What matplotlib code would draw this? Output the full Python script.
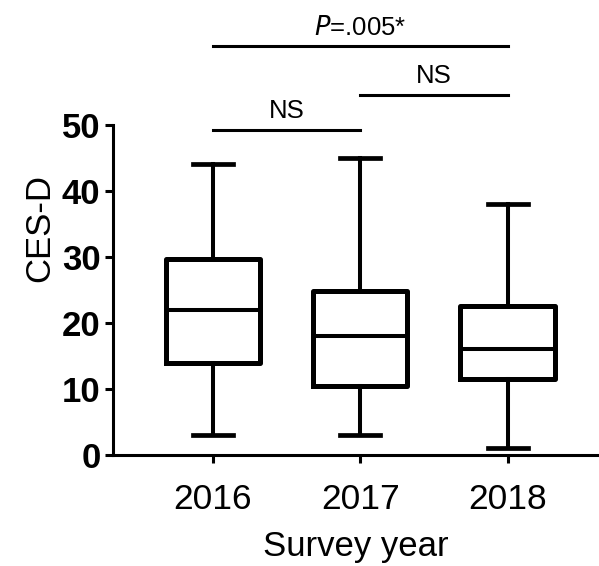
import matplotlib
matplotlib.use("Agg")
import matplotlib.pyplot as plt

plt.rcParams['font.family'] = ['Liberation Sans', 'DejaVu Sans']

# box statistics
years = ['2016', '2017', '2018']
whislo = [3, 3, 1]
q1 = [14, 10.5, 11.5]
med = [22, 18, 16]
q3 = [29.7, 24.9, 22.6]
whishi = [44, 45, 38]

# significance brackets: (left group, right group, height, label)
brackets = [(1, 2, 49.2, 'NS'), (2, 3, 54.5, 'NS'), (1, 3, 61.9, r'$\it{P}$=.005*')]

stats = []
for i, y in enumerate(years):
    stats.append({'label': y, 'whislo': whislo[i], 'q1': q1[i], 'med': med[i],
                  'q3': q3[i], 'whishi': whishi[i], 'fliers': []})

fig = plt.figure(figsize=(5.99, 5.66), dpi=100)
ax = fig.add_axes([113 / 599, 111 / 566, 486 / 599, 455 / 566])

ax.bxp(stats, positions=[1, 2, 3], widths=0.64, showfliers=False,
       boxprops=dict(linewidth=3.6, color='black'),
       whiskerprops=dict(linewidth=2.9, color='black'),
       capprops=dict(linewidth=3.4, color='black'),
       medianprops=dict(linewidth=2.9, color='black'),
       capwidths=0.27)

ax.set_xlim(0.322, 3.62)
ax.set_ylim(0, 68.9)
ax.spines['top'].set_visible(False)
ax.spines['right'].set_visible(False)
ax.spines['left'].set_bounds(0, 50)
ax.spines['left'].set_linewidth(2.2)
ax.spines['bottom'].set_linewidth(2.2)

ax.set_yticks([0, 10, 20, 30, 40, 50])
ax.tick_params(axis='both', width=2.2, length=5.5, direction='out')
for lab in ax.get_yticklabels():
    lab.set_fontweight('bold')
    lab.set_fontsize(25)
ax.tick_params(axis='x', labelsize=25.5, pad=15)
ax.set_xticks([1, 2, 3])
ax.set_xticklabels(years)

ax.set_ylabel('CES-D', fontsize=25, labelpad=4)
ax.set_xlabel('Survey year', fontsize=25, labelpad=10)

for x1, x2, h, txt in brackets:
    ax.plot([x1, x2], [h, h], color='black', linewidth=2.2, clip_on=False)
    ax.text((x1 + x2) / 2, h + 1.0, txt, ha='center', va='bottom', fontsize=18.5)

fig.savefig('out.png', dpi=100)
